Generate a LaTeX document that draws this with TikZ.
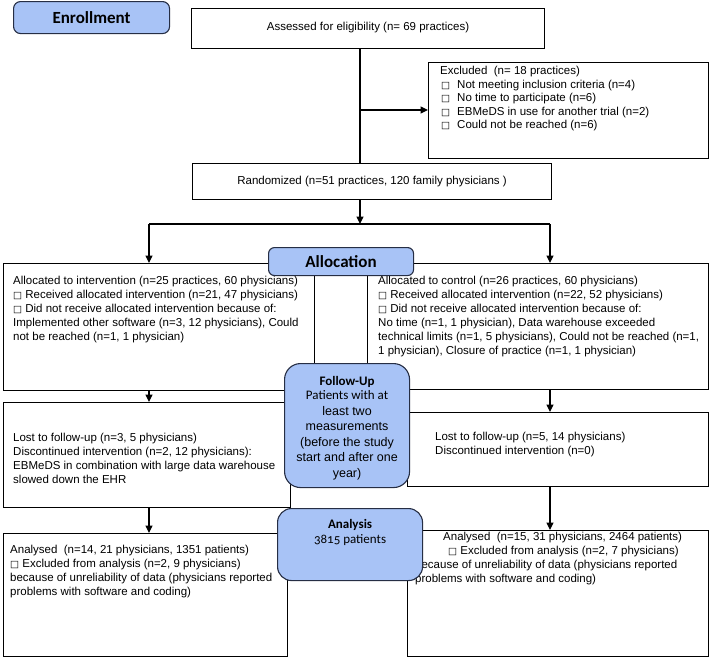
\documentclass[tikz,border=0pt]{standalone}
\usepackage{fontspec}
\setmainfont{Liberation Sans}
\newfontfamily\calib{Carlito}
\newfontfamily\calibB{Carlito Bold}
\newfontfamily\calibOS[Numbers=OldStyle]{Carlito}
\newfontfamily\dvs{DejaVu Sans}
\usetikzlibrary{arrows.meta,calc}
\definecolor{cblue}{RGB}{168,195,246}
\definecolor{cedge}{RGB}{38,46,68}
\newcommand{\chkbox}{{\dvs\fontsize{9.5}{9.5}\selectfont □}}
\tikzset{
  wbox/.style={draw=black, line width=1.1pt, inner sep=0pt, anchor=north west, fill=white},
  bbox/.style={draw=cedge, line width=1.1pt, inner sep=0pt, anchor=north west, fill=cblue},
  txt/.style={anchor=north west, inner sep=0pt, align=left, font=\fontsize{11.5}{14}\selectfont},
  head/.style={inner sep=0pt, anchor=center, font=\calibB\fontsize{13}{15.5}\selectfont},
  ln/.style={line width=1.2pt, draw=black},
  arr/.style={line width=1.2pt, draw=black, -{Triangle[length=7.5pt,width=7pt]}},
}
\begin{document}
\begin{tikzpicture}[x=1pt,y=-1pt]
\useasboundingbox (0,0) rectangle (709,657);
% white boxes
\node[wbox, minimum width=353pt, minimum height=40pt, font=\fontsize{11.5}{14}\selectfont] (assess) at (191,8) {\raisebox{4pt}{Assessed for eligibility (n= 69 practices)}};
\node[wbox, minimum width=280pt, minimum height=96pt] (excl) at (428,62) {};
\node[wbox, minimum width=359pt, minimum height=36pt, font=\fontsize{11.5}{14}\selectfont] (rand) at (192,163) {Randomized (n=51 practices, 120 family physicians )};
\node[wbox, minimum width=311pt, minimum height=127pt] (lalloc) at (3,263) {};
\node[wbox, minimum width=341pt, minimum height=126pt] (ralloc) at (367,263) {};
\node[wbox, minimum width=287pt, minimum height=105pt] (llost) at (3,402) {};
\node[wbox, minimum width=301pt, minimum height=74pt] (rlost) at (407,412) {};
\node[wbox, minimum width=284pt, minimum height=123pt] (lanal) at (3,533) {};
\node[wbox, minimum width=301pt, minimum height=126pt] (ranal) at (407,530) {};

% texts of white boxes
\node[txt, font=\fontsize{11.5}{13.6}\selectfont] (excl-t) at ($(excl.north west)+(12,4)$) {Excluded~~(n= 18 practices)\\
\makebox[17pt][l]{\hspace{1pt}\chkbox}Not meeting inclusion criteria (n=4)\\
\makebox[17pt][l]{\hspace{1pt}\chkbox}No time to participate (n=6)\\
\makebox[17pt][l]{\hspace{1pt}\chkbox}EBMeDS in use for another trial (n=2)\\
\makebox[17pt][l]{\hspace{1pt}\chkbox}Could not be reached (n=6)};
\node[txt] (lalloc-t) at ($(lalloc.north west)+(10,13)$) {Allocated to intervention (n=25 practices, 60 physicians)\\
\chkbox{} Received allocated intervention (n=21, 47 physicians)\\
\chkbox{} Did not receive allocated intervention because of:\\
Implemented other software (n=3, 12 physicians), Could\\
not be reached (n=1, 1 physician)};
\node[txt] (ralloc-t) at ($(ralloc.north west)+(11,13)$) {Allocated to control (n=26 practices, 60 physicians)\\
\chkbox{} Received allocated intervention (n=22, 52 physicians)\\
\chkbox{} Did not receive allocated intervention because of:\\
No time (n=1, 1 physician), Data warehouse exceeded\\
technical limits (n=1, 5 physicians), Could not be reached (n=1,\\
1 physician), Closure of practice (n=1, 1 physician)};
\node[txt] (llost-t) at ($(llost.north west)+(10,31)$) {Lost to follow-up (n=3, 5 physicians)\\
Discontinued intervention (n=2, 12 physicians):\\
EBMeDS in combination with large data warehouse\\
slowed down the EHR};
\node[txt] (rlost-t) at ($(rlost.north west)+(28,20)$) {Lost to follow-up (n=5, 14 physicians)\\
Discontinued intervention (n=0)};
\node[txt] (lanal-t) at ($(lanal.north west)+(7,12)$) {Analysed~~(n=14, 21 physicians, 1351 patients)\\
\chkbox{} Excluded from analysis (n=2, 9 physicians)\\
because of unreliability of data (physicians reported\\
problems with software and coding)};
\node[txt] (ranal-t) at ($(ranal.north west)+(8,2)$) {\hspace*{28pt}Analysed~~(n=15, 31 physicians, 2464 patients)\\
\hspace*{33pt}\chkbox{} Excluded from analysis (n=2, 7 physicians)\\
because of unreliability of data (physicians reported\\
problems with software and coding)};

% connectors
\coordinate (jA) at (360,110);
\coordinate (sp) at (360,224);
\coordinate (spL) at (149,224);
\coordinate (spR) at (550,224);
\draw[ln] (assess.south -| jA) -- (rand.north -| jA);
\draw[arr] (jA) -- (excl.west |- jA);
\draw[arr] (rand.south -| sp) -- (sp);
\draw[ln] (spL) -- (spR);
\draw[arr] (spL) -- (lalloc.north -| spL);
\draw[arr] (spR) -- (ralloc.north -| spR);
\draw[arr] (lalloc.south -| spL) -- (llost.north -| spL);
\draw[arr] (ralloc.south -| spR) -- (rlost.north -| spR);
\draw[arr] (llost.south -| spL) -- (lanal.north -| spL);
\draw[arr] (rlost.south -| spR) -- (ranal.north -| spR);

% blue boxes
\node[bbox, rounded corners=7pt, minimum width=156pt, minimum height=32pt, font=\calibB\fontsize{17}{20}\selectfont] (enroll) at (13,1) {Enrollment};
\node[bbox, rounded corners=6pt, minimum width=145pt, minimum height=28pt, font=\calibB\fontsize{17}{20}\selectfont] (alloc) at (268,247) {Allocation};
\node[bbox, rounded corners=16pt, minimum width=125pt, minimum height=124pt] (fup) at (284,363) {};
\node[bbox, rounded corners=14pt, minimum width=145pt, minimum height=72pt] (anal) at (277,508) {};
\node[head] (fup-h) at ($(fup.north)+(0,19)$) {Follow-Up};
\node[inner sep=0pt, anchor=north, align=center, font=\fontsize{12.5}{15.5}\selectfont] (fup-t) at ($(fup.north)+(0,27.5)$) {{\calib\fontsize{13}{15.5}\selectfont Patients with at}\\
least two\\ measurements\\ (before the study\\ start and after one\\ year)};
\node[head] (anal-h) at ($(anal.north)+(0,17)$) {Analysis};
\node[inner sep=0pt, anchor=center, font=\calibOS\fontsize{13}{15.5}\selectfont] (anal-t) at ($(anal.north)+(0,32)$) {3815 patients};
\end{tikzpicture}
\end{document}
